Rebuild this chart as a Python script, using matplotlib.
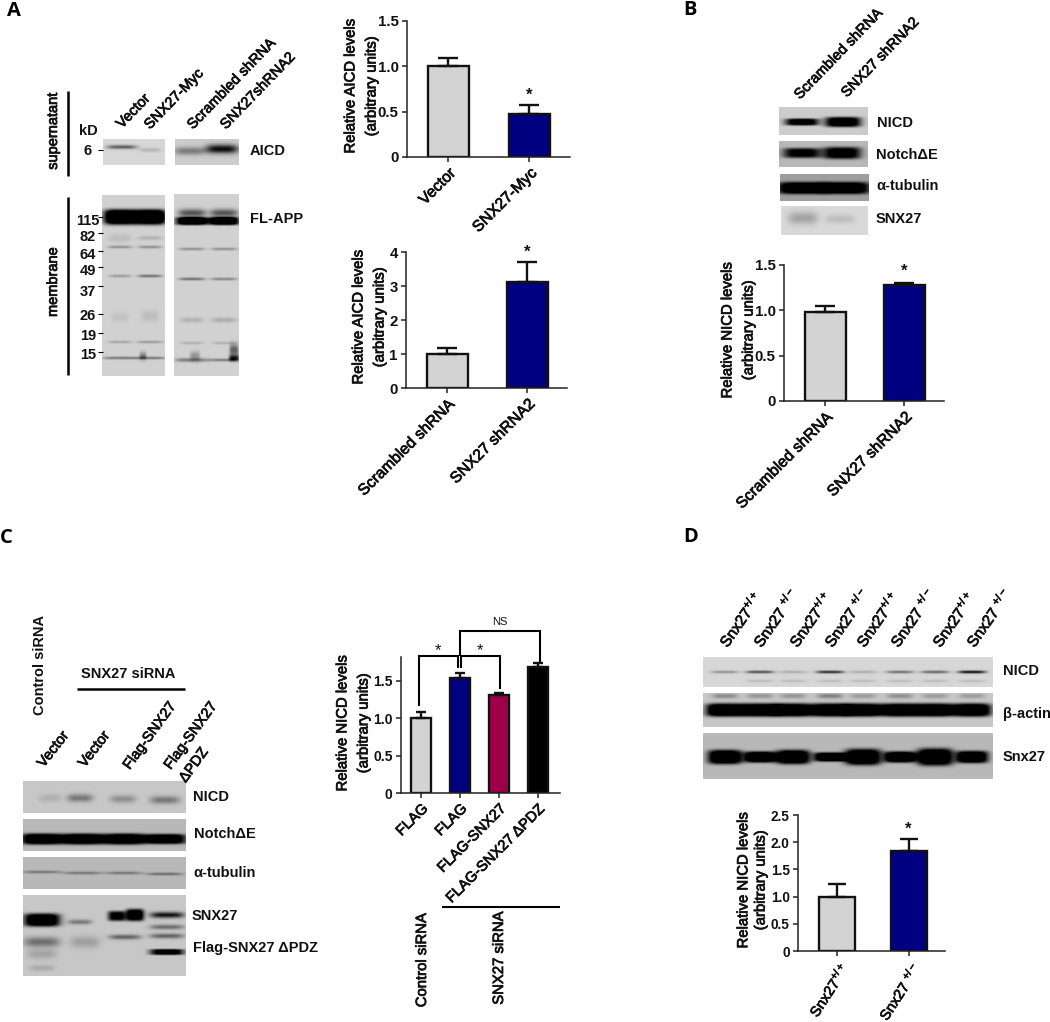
import numpy as np
import matplotlib
matplotlib.use('Agg')
import matplotlib.pyplot as plt
import matplotlib.patheffects as pe

plt.rcParams['font.family'] = ['Liberation Sans', 'DejaVu Sans']
plt.rcParams['mathtext.fontset'] = 'custom'
plt.rcParams['mathtext.rm'] = 'Liberation Sans'
plt.rcParams['mathtext.bf'] = 'Liberation Sans:bold'

W, H = 1050, 1022
GREY, BLUE, RED, BLACK = '#d3d3d3', '#000080', '#a00048', '#000000'
INK = '#111111'
HEAVY = [pe.withStroke(linewidth=.55, foreground=INK)]

# bar chart values
a1_labels = ['Vector', 'SNX27-Myc']
a1_values = [1.0, 0.47]
a1_errors = [0.09, 0.10]

a2_labels = ['Scrambled shRNA', 'SNX27 shRNA2']
a2_values = [1.0, 3.13]
a2_errors = [0.19, 0.58]

b_labels = ['Scrambled shRNA', 'SNX27 shRNA2']
b_values = [0.98, 1.28]
b_errors = [0.07, 0.02]

c_labels = ['FLAG', 'FLAG', 'FLAG-SNX27', 'FLAG-SNX27 ΔPDZ']
c_values = [1.0, 1.54, 1.31, 1.68]
c_errors = [0.08, 0.06, 0.03, 0.06]

d_labels = [r'Snx27$^{\mathregular{+/+}}$', r'Snx27 $^{\mathregular{+/-}}$']
d_values = [1.0, 1.84]
d_errors = [0.23, 0.22]

# blot bands: centre x, centre y, width, height, darkness
a_sup_l = [(122, 147, 30, 4, .55), (150, 150, 22, 4, .15)]
a_sup_r = [(190, 151, 32, 8, .4), (222, 149, 32, 9, .95)]
a_mem_l = [(120, 217, 32, 15, 1.6), (150, 217, 32, 15, 1.6),
           (120, 247, 24, 3, .3), (150, 247, 24, 3, .3), (120, 238, 24, 8, .1), (150, 238, 24, 4, .15),
           (120, 276, 22, 3, .25), (150, 276, 24, 3, .45),
           (120, 317, 18, 10, .08), (150, 316, 18, 12, .1),
           (120, 342, 24, 3, .2), (150, 342, 26, 3, .25),
           (120, 358, 34, 3, .4), (150, 358, 32, 3, .4), (143, 356, 7, 8, .4)]
a_mem_r = [(192, 221, 32, 8, 1.5), (224, 221, 30, 8, 1.5), (192, 213, 28, 8, .6), (224, 213, 28, 8, .6),
           (192, 249, 26, 3, .3), (224, 249, 26, 3, .3), (192, 279, 26, 3, .45), (224, 279, 26, 3, .35),
           (192, 320, 24, 5, .15), (224, 320, 24, 5, .18), (192, 343, 24, 3, .15), (224, 343, 24, 3, .15),
           (192, 360, 34, 4, .4), (224, 360, 30, 3, .4), (195, 356, 10, 9, .3), (234, 350, 9, 12, .55),
           (234, 358, 10, 6, .8)]
b_nicd = [(802, 122, 34, 7, 1.2), (843, 122, 36, 10, 1.3)]
b_notch = [(802, 153, 38, 10, 1.1), (842, 153, 38, 12, 1.2)]
b_tub = [(802, 188, 50, 12, 1.4), (845, 188, 50, 12, 1.4)]
b_snx = [(803, 218, 30, 13, .25), (840, 219, 30, 9, .13)]
c_nicd = [(50, 798, 22, 8, .12), (80, 798, 26, 8, .4), (123, 799, 26, 8, .28), (165, 800, 30, 8, .4)]
c_notch = [(42, 839, 42, 11, 1.4), (83, 839, 42, 11, 1.4), (124, 839, 42, 11, 1.4), (165, 839, 42, 10, 1.4)]
c_tub = [(42, 872, 38, 3, .35), (83, 873, 38, 3, .35), (124, 873, 36, 3, .35), (165, 874, 36, 3, .4)]
c_snx = [(42, 920, 36, 13, 1.4), (42, 942, 36, 10, .45), (42, 954, 30, 10, .18), (42, 968, 26, 6, .15),
         (80, 922, 24, 5, .4), (85, 942, 30, 12, .2), (117, 916, 18, 10, 1.1), (135, 915, 18, 12, 1.3),
         (125, 937, 32, 5, .5), (167, 915, 34, 6, .9), (167, 927, 34, 5, .45), (167, 936, 34, 5, .5),
         (167, 952, 34, 6, 1.2)]
d_lanes = [725, 760, 793, 830, 863, 900, 935, 972]
d_nicd_dark = [.3, .6, .18, .75, .18, .45, .5, .9]
d_top_dark = [.3, .25, .25, .35, .22, .28, .22, .22]
d_snx_width = [34, 32, 34, 32, 36, 32, 36, 32]
d_snx_height = [14, 11, 14, 9, 16, 11, 17, 12]

fig = plt.figure(figsize=(W / 100, H / 100), dpi=100, facecolor='white')
ov = fig.add_axes([0, 0, 1, 1], zorder=5)
ov.patch.set_alpha(0)
ov.axis('off')


def blot(x0, y0, x1, y1, bands, bg=0.82):
    xx, yy = np.meshgrid(np.arange(x0, x1) + .5, np.arange(y0, y1) + .5)
    img = np.zeros_like(xx)
    for cx, cy, w, h, dark in bands:
        p = 4 if dark > 1 else 2
        img += dark * np.exp(-((xx - cx) / (w / 2)) ** 4 - np.abs((yy - cy) / (h / 2)) ** p)
    img = bg * (1 - np.clip(img, 0, 1))
    ov.imshow(img, cmap='gray', vmin=0, vmax=1, extent=(x0, x1, y1, y0), aspect='auto', interpolation='bilinear')


def lab(x, y, s, size=10.5, weight='bold', **kw):
    kw.setdefault('ha', 'left')
    kw.setdefault('va', 'center')
    ov.text(x, y, s, fontsize=size, fontweight=weight, color=INK, **kw)


def thick(x, y, s, size=10.7, **kw):
    kw.setdefault('ha', 'center')
    kw.setdefault('va', 'center')
    ov.text(x, y, s, fontsize=size, color=INK, path_effects=HEAVY, **kw)


def lane(x, y, s, rot=46, size=10.5):
    ov.text(x, y, s, rotation=rot, rotation_mode='anchor', ha='left', va='bottom',
            fontsize=size, color=INK, path_effects=HEAVY)


def line(xs, ys, lw=1.8):
    ov.plot(xs, ys, color='black', lw=lw, solid_capstyle='butt', solid_joinstyle='miter')


def bars(left, right, top, bottom, centers, width, ymax, ticks, ticklabels, labels, values, errors, colors,
         ylabel, ylab_x, ylab_y, lsize=11.3, lrot=45, spacing=1.65, tsize=10.8):
    ax = fig.add_axes([left / W, 1 - bottom / H, (right - left) / W, (bottom - top) / H])
    ax.patch.set_alpha(0)
    # positions come from category index; xlim places them in the panel
    step = centers[1] - centers[0]
    idx = np.arange(len(values))
    ax.bar(idx, values, width=width / step, color=colors, edgecolor=INK, linewidth=1.7)
    ax.errorbar(idx, values, yerr=[np.zeros(len(values)), errors], fmt='none', ecolor=INK,
                elinewidth=1.7, capsize=width * .18, capthick=1.7)
    ax.set_xlim((left - centers[0]) / step, (right - centers[0]) / step)
    ax.set_ylim(0, ymax)
    ax.set_yticks(ticks)
    ax.set_yticklabels(ticklabels, fontsize=tsize, fontweight='bold')
    ax.set_xticks(idx)
    ax.set_xticklabels(labels, rotation=lrot, ha='right', rotation_mode='anchor', fontsize=lsize, path_effects=HEAVY)
    ax.tick_params(width=1.1, length=3.5, color='#222222', labelcolor=INK, pad=2.5)
    for s in ['top', 'right']:
        ax.spines[s].set_visible(False)
    for s in ['left', 'bottom']:
        ax.spines[s].set_linewidth(1.1)
        ax.spines[s].set_color('#222222')
    thick(ylab_x, ylab_y, ylabel, rotation=90, linespacing=spacing)
    return ax


# panel letters
for x, y, s in [(7, 11, 'A'), (683, 10, 'B'), (0, 538, 'C'), (683, 537, 'D')]:
    ov.text(x, y, s, fontsize=14.5, fontweight='bold', family='Open Sans', ha='left', va='center')

# panel A blots
blot(103, 139, 165, 165, a_sup_l, .84)
blot(175, 139, 239, 165, a_sup_r, .8)
blot(102, 195, 165, 376, a_mem_l, .82)
blot(174, 194, 239, 376, a_mem_r, .82)
line([68, 68], [91, 176])
line([68, 68], [197, 375])
thick(53, 131, 'supernatant', size=10.5, rotation=90)
thick(53, 282, 'membrane', size=10.5, rotation=90)
lab(88, 131, 'kD', ha='center')
for y, tick_y, s in [(151, 150, '6'), (221, 217, '115'), (237, 233, '82'), (255, 251, '64'), (271, 267, '49'),
                     (292, 286, '37'), (316, 314, '26'), (336, 333, '19'), (355, 352, '15')]:
    lab(88, y, s, ha='center')
    line([98, 103], [tick_y, tick_y], lw=.8)
lab(250, 151, 'AICD')
lab(250, 219, 'FL-APP')
lane(124, 131, 'Vector')
lane(152, 132, 'SNX27-Myc')
lane(195, 132, 'Scrambled shRNA')
lane(228, 132, 'SNX27shRNA2')

# panel A charts
bars(407, 570, 21, 157, [448, 529], 41, 1.5, [0, .5, 1, 1.5], ['0', '0.5', '1.0', '1.5'],
     a1_labels, a1_values, a1_errors, [GREY, BLUE], 'Relative AICD levels\n(arbitrary units)', 361, 86)
bars(406, 567, 252, 388, [447, 527], 41, 4, [0, 1, 2, 3, 4], ['0', '1', '2', '3', '4'],
     a2_labels, a2_values, a2_errors, [GREY, BLUE], 'Relative AICD levels\n(arbitrary units)', 369, 317)
lab(529, 95, '*', size=12, ha='center')
lab(527, 252, '*', size=12, ha='center')

# panel B
blot(779, 107, 868, 135, b_nicd, .8)
blot(779, 141, 868, 167, b_notch, .72)
blot(780, 174, 869, 201, b_tub, .62)
blot(781, 206, 868, 235, b_snx, .85)
lab(877, 123, 'NICD')
lab(876, 155, 'NotchΔE')
lab(876, 186, 'α-tubulin')
lab(876, 219, 'SNX27')
lane(802, 102, 'Scrambled shRNA')
lane(849, 100, 'SNX27 shRNA2')
bars(784, 944, 265, 401, [825, 904], 41, 1.5, [0, .5, 1, 1.5], ['0', '0.5', '1.0', '1.5'],
     b_labels, b_values, b_errors, [GREY, BLUE], 'Relative NICD levels\n(arbitrary units)', 738, 330)
lab(904, 271, '*', size=12, ha='center')

# panel C blots
blot(23, 781, 186, 813, c_nicd, .78)
blot(23, 819, 186, 851, c_notch, .72)
blot(23, 857, 186, 889, c_tub, .72)
blot(23, 895, 186, 976, c_snx, .78)
lab(193, 797, 'NICD')
lab(194, 834, 'NotchΔE')
lab(193, 873, 'α-tubulin')
lab(192, 916, 'SNX27')
lab(193, 948, 'Flag-SNX27 ΔPDZ')
lab(128, 674, 'SNX27 siRNA', ha='center')
line([77, 185], [689, 689])
lab(40, 665, 'Control siRNA', rotation=90, ha='center')
lane(46, 770, 'Vector', rot=52)
lane(87, 770, 'Vector', rot=52)
lane(132, 772, 'Flag-SNX27', rot=54)
lane(173, 772, 'Flag-SNX27', rot=54)
lane(188, 785, 'ΔPDZ', rot=54)

# panel C chart
bars(401, 560, 657, 793, [421, 460, 500, 540], 20, 1.82, [0, .5, 1, 1.5], ['0', '0.5', '1.0', '1.5'],
     c_labels, c_values, c_errors, [GREY, BLUE, RED, BLACK], 'Relative NICD levels\n(arbitrary units)', 353, 723,
     lsize=10.6, tsize=10)
line([419, 419, 458, 458], [706, 656, 656, 668], lw=1.5)
line([461, 461, 500, 500], [668, 656, 656, 689], lw=1.5)
line([460, 460, 540, 540], [656, 631, 631, 662], lw=1.5)
lab(438, 651, '*', size=12, weight='normal', ha='center')
lab(480, 651, '*', size=12, weight='normal', ha='center')
lab(500, 622, 'NS', size=8, weight='normal', ha='center')
line([442, 560], [907, 907], lw=1.5)
thick(422, 960, 'Control siRNA', rotation=90)
thick(499, 958, 'SNX27 siRNA', rotation=90)

# panel D blots
blot(703, 657, 993, 687, [(x, 672, 28, 3, d) for x, d in zip(d_lanes, d_nicd_dark)]
     + [(x, 681, 26, 3, .12) for x in d_lanes[1:]], .84)
blot(703, 693, 993, 727, [(x, 696, 26, 5, d) for x, d in zip(d_lanes, d_top_dark)]
     + [(x, 710, 38, 13, 1.5) for x in d_lanes], .78)
blot(703, 733, 993, 779, [(x, 757, w, h, 1.5) for x, w, h in zip(d_lanes, d_snx_width, d_snx_height)], .72)
lab(1003, 671, 'NICD')
lab(1003, 714, 'β-actin')
lab(1003, 757, 'Snx27')
for x, s in zip([730, 764, 800, 835, 867, 901, 943, 977], [0, 1] * 4):
    lane(x, 650, d_labels[s], rot=55, size=11)

# panel D chart
bars(798, 945, 815, 951, [837, 909], 36, 2.5, [0, .5, 1, 1.5, 2, 2.5], ['0', '0.5', '1.0', '1.5', '2.0', '2.5'],
     d_labels, d_values, d_errors, [GREY, BLUE], 'Relative NICD levels\n(arbitrary units)', 752, 880,
     lsize=10.5, lrot=57, spacing=1.3, tsize=9.8)
lab(908, 829, '*', size=12, ha='center')

ov.set_xlim(0, W)
ov.set_ylim(H, 0)
fig.savefig('out.png', dpi=100)
